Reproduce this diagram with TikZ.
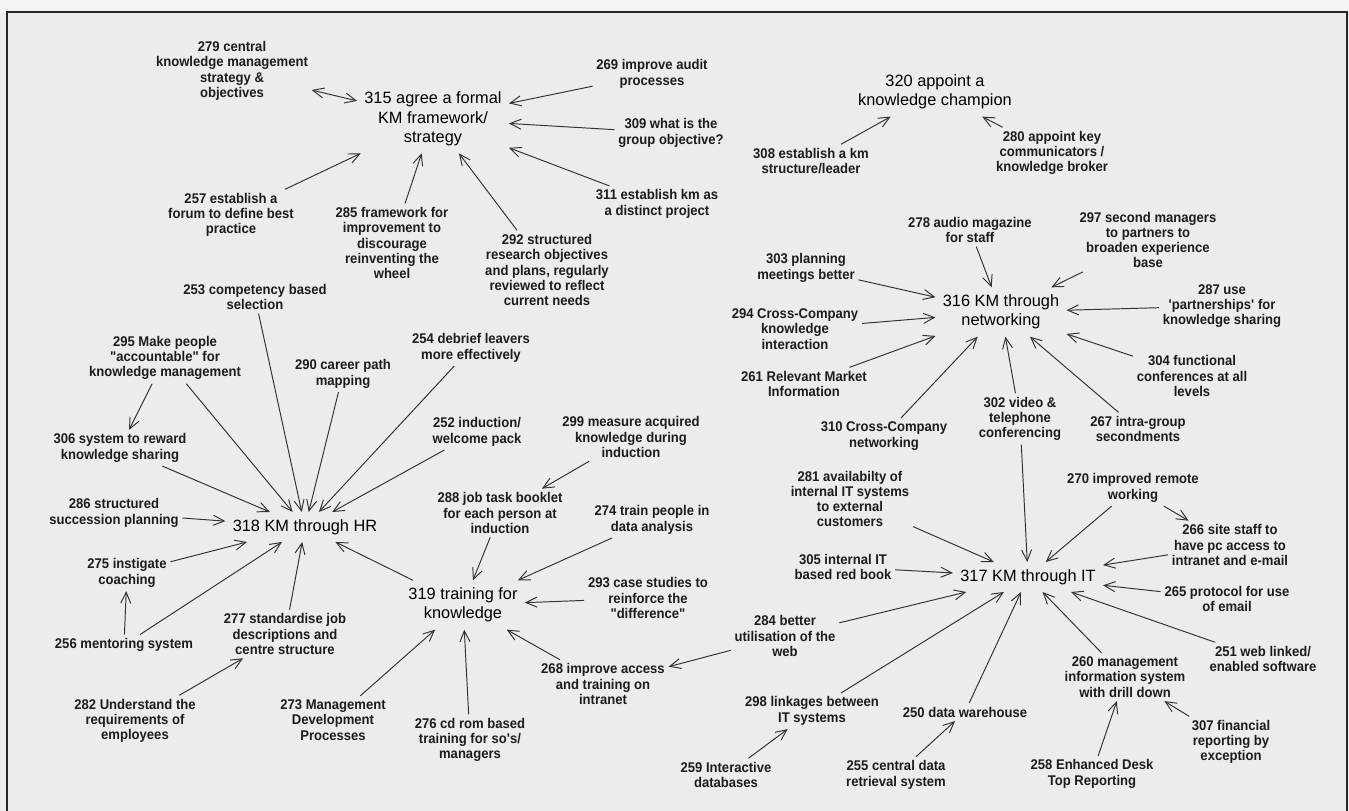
\documentclass[tikz,border=0pt]{standalone}
\usepackage{fontspec}
\setmainfont{Liberation Sans}
\newfontfamily\labfont{Liberation Sans}[FakeStretch=0.93]
\usetikzlibrary{arrows.meta}
\definecolor{paper}{RGB}{236,236,236}
\definecolor{ink}{RGB}{28,28,28}
\definecolor{wire}{RGB}{50,50,50}

\begin{document}
\begin{tikzpicture}[
  lab/.style={align=center,inner sep=2pt,text=ink,font={\labfont\bfseries\fontsize{8}{8.7}\selectfont}},
  hub/.style={align=center,inner sep=4pt,text=black,font={\fontsize{9.3}{11}\selectfont}},
  arr/.style={-{Straight Barb[length=2.2mm,width=2mm]},line width=0.55pt,wire}]

\fill[paper] (0,0) rectangle (26.98,16.22);
\fill[paper!60!white] (0,15.98) rectangle (26.98,16.22);
\useasboundingbox (0,0) rectangle (26.98,16.22);
\draw[line width=1.2pt,black!85] (0.14,0) |- (26.94,15.98) -- (26.94,0);

% strategy
\node[hub] (n315) at (8.66,13.84) {315 agree a formal\\KM framework/\\strategy};
\node[lab] (n279) at (4.64,14.80) {279 central\\knowledge management\\strategy \&\\objectives};
\node[lab] (n269) at (13.04,14.74) {269 improve audit\\processes};
\node[lab] (n309) at (13.42,13.56) {309 what is the\\group objective?};
\node[lab] (n311) at (13.14,12.14) {311 establish km as\\a distinct project};
\node[lab] (n292) at (10.94,10.82) {292 structured\\research objectives\\and plans, regularly\\reviewed to reflect\\current needs};
\node[lab] (n285) at (7.84,11.36) {285 framework for\\improvement to\\discourage\\reinventing the\\wheel};
\node[lab] (n257) at (4.62,11.92) {257 establish a\\forum to define best\\practice};

% champion
\node[hub] (n320) at (18.70,14.38) {320 appoint a\\knowledge champion};
\node[lab] (n308) at (16.22,13.00) {308 establish a km\\structure/leader};
\node[lab] (n280) at (21.04,13.16) {280 appoint key\\communicators /\\knowledge broker};

% networking
\node[hub] (n316) at (20.02,9.98) {316 KM through\\networking};
\node[lab] (n278) at (19.40,11.62) {278 audio magazine\\for staff};
\node[lab] (n297) at (22.96,11.42) {297 second managers\\to partners to\\broaden experience\\base};
\node[lab] (n303) at (16.12,10.86) {303 planning\\meetings better};
\node[lab] (n294) at (15.90,9.64) {294 Cross-Company\\knowledge\\interaction};
\node[lab] (n261) at (16.08,8.54) {261 Relevant Market\\Information};
\node[lab] (n310) at (17.68,7.50) {310 Cross-Company\\networking};
\node[lab] (n302) at (20.40,7.84) {302 video \&\\telephone\\conferencing};
\node[lab] (n267) at (22.76,7.64) {267 intra-group\\secondments};
\node[lab] (n304) at (23.84,8.70) {304 functional\\conferences at all\\levels};
\node[lab] (n287) at (24.44,10.10) {287 use\\\textquotesingle partnerships\textquotesingle\ for\\knowledge sharing};

% IT
\node[hub] (n317) at (20.56,4.68) {317 KM through IT};
\node[lab] (n281) at (17.00,6.24) {281 availabilty of\\internal IT systems\\to external\\customers};
\node[lab] (n270) at (22.66,6.46) {270 improved remote\\working};
\node[lab] (n266) at (24.60,5.32) {266 site staff to\\have pc access to\\intranet and e-mail};
\node[lab] (n305) at (16.86,4.88) {305 internal IT\\based red book};
\node[lab] (n265) at (24.54,4.24) {265 protocol for use\\of email};
\node[lab] (n284) at (15.70,3.50) {284 better\\utilisation of the\\web};
\node[lab] (n251) at (25.26,3.04) {251 web linked/\\enabled software};
\node[lab] (n260) at (22.50,2.68) {260 management\\information system\\with drill down};
\node[lab] (n298) at (16.24,2.00) {298 linkages between\\IT systems};
\node[lab] (n250) at (19.30,1.98) {250 data warehouse};
\node[lab] (n307) at (24.62,1.38) {307 financial\\reporting by\\exception};
\node[lab] (n258) at (21.84,0.74) {258 Enhanced Desk\\Top Reporting};
\node[lab] (n255) at (17.92,0.72) {255 central data\\retrieval system};
\node[lab] (n259) at (14.52,0.72) {259 Interactive\\databases};

% HR
\node[hub] (n318) at (6.10,5.68) {318 KM through HR};
\node[lab] (n253) at (5.10,10.28) {253 competency based\\selection};
\node[lab] (n295) at (3.30,9.06) {295 Make people\\"accountable" for\\knowledge management};
\node[lab] (n290) at (6.86,8.74) {290 career path\\mapping};
\node[lab] (n254) at (9.42,9.26) {254 debrief leavers\\more effectively};
\node[lab] (n252) at (9.54,7.58) {252 induction/\\welcome pack};
\node[lab] (n306) at (2.40,7.26) {306 system to reward\\knowledge sharing};
\node[lab] (n286) at (2.28,5.96) {286 structured\\succession planning};
\node[lab] (n275) at (2.54,4.76) {275 instigate\\coaching};
\node[lab] (n256) at (2.48,3.32) {256 mentoring system};
\node[lab] (n277) at (5.70,3.54) {277 standardise job\\descriptions and\\centre structure};
\node[lab] (n282) at (2.70,1.80) {282 Understand the\\requirements of\\employees};

% training
\node[hub] (n319) at (9.26,4.12) {319 training for\\knowledge};
\node[lab] (n299) at (12.62,7.48) {299 measure acquired\\knowledge during\\induction};
\node[lab] (n288) at (10.00,5.96) {288 job task booklet\\for each person at\\induction};
\node[lab] (n274) at (13.04,5.82) {274 train people in\\data analysis};
\node[lab] (n293) at (12.96,4.26) {293 case studies to\\reinforce the\\"difference"};
\node[lab] (n268) at (12.06,2.54) {268 improve access\\and training on\\intranet};
\node[lab] (n276) at (9.40,1.42) {276 cd rom based\\training for so\textquotesingle s/\\managers};
\node[lab] (n273) at (6.66,1.82) {273 Management\\Development\\Processes};

\draw[arr,{Straight Barb[length=2.2mm,width=2mm]}-{Straight Barb[length=2.2mm,width=2mm]}] (n279) -- (n315);
\foreach \x in {n269,n309,n311,n292,n285,n257}{\draw[arr] (\x) -- (n315);}
\foreach \x in {n308,n280}{\draw[arr] (\x) -- (n320);}
\foreach \x in {n278,n297,n303,n294,n261,n310,n302,n267,n304,n287}{\draw[arr] (\x) -- (n316);}
\foreach \x in {n302,n281,n270,n266,n305,n265,n284,n298,n250,n260,n251}{\draw[arr] (\x) -- (n317);}
\foreach \x in {n253,n295,n290,n254,n252,n306,n286,n275,n256,n277,n319}{\draw[arr] (\x) -- (n318);}
\foreach \x in {n288,n274,n293,n268,n276,n273}{\draw[arr] (\x) -- (n319);}
\draw[arr] (n270) -- (n266);
\draw[arr] (n258) -- (n260);
\draw[arr] (n307) -- (n260);
\draw[arr] (n255) -- (n250);
\draw[arr] (n259) -- (n298);
\draw[arr] (n284) -- (n268);
\draw[arr] (n295) -- (n306);
\draw[arr] (n256) -- (n275);
\draw[arr] (n282) -- (n277);
\draw[arr] (n299) -- (n288);

\end{tikzpicture}
\end{document}
